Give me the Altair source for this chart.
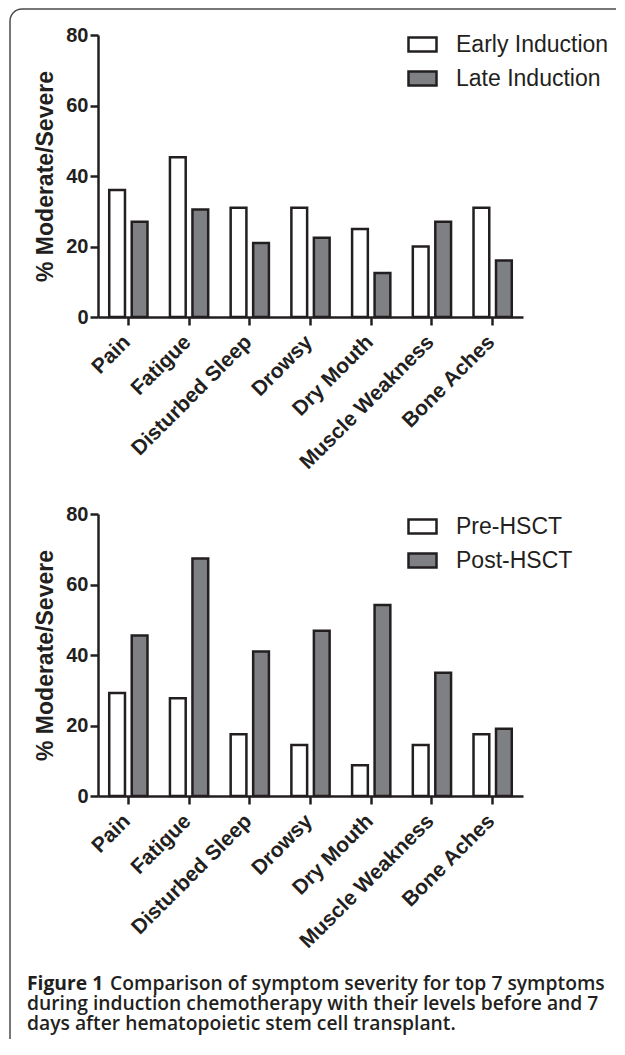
import altair as alt
import pandas as pd

symptoms = ["Pain", "Fatigue", "Disturbed Sleep", "Drowsy", "Dry Mouth", "Muscle Weakness", "Bone Aches"]
early_induction = [36, 45.3, 31, 31, 25, 20, 31]
late_induction = [27, 30.5, 21, 22.5, 12.5, 27, 16]
pre_hsct = [29.2, 27.7, 17.5, 14.5, 8.7, 14.5, 17.5]
post_hsct = [45.5, 67.4, 41, 46.9, 54.2, 35, 19.1]
series_top = ["Early Induction", "Late Induction"]
series_bottom = ["Pre-HSCT", "Post-HSCT"]
y_ticks = [0, 20, 40, 60, 80]
y_title = "% Moderate/Severe"
caption_bold = "Figure 1"
caption_lines = [
    "Comparison of symptom severity for top 7 symptoms",
    "during induction chemotherapy with their levels before and 7",
    "days after hematopoietic stem cell transplant.",
]

INK = "#231f20"
GRAY = "#7f8084"
FRAME = "#4a4a4a"
W, H = 425, 282


def long_df(a, b, names):
    return pd.DataFrame({
        "symptom": symptoms * 2,
        "value": a + b,
        "series": [names[0]] * len(symptoms) + [names[1]] * len(symptoms),
    })


def bar_panel(df, names, legend_y):
    return alt.Chart(df).mark_bar(stroke=INK, strokeWidth=2.5).encode(
        x=alt.X("symptom:N", sort=symptoms,
                scale=alt.Scale(paddingInner=0.37, paddingOuter=0.185),
                axis=alt.Axis(title=None, labelAngle=-45, labelAlign="right",
                              labelBaseline="top", labelPadding=6, labelOffset=-9,
                              labelFontSize=21)),
        xOffset=alt.XOffset("series:N", sort=names,
                            scale=alt.Scale(paddingInner=0.3, paddingOuter=0)),
        y=alt.Y("value:Q", scale=alt.Scale(domain=[0, 80], nice=False),
                axis=alt.Axis(values=y_ticks, title=y_title, grid=False,
                              titlePadding=8, labelPadding=2)),
        fill=alt.Fill("series:N", sort=names,
                      scale=alt.Scale(domain=names, range=["white", GRAY]),
                      legend=alt.Legend(title=None, orient="none", legendX=309, legendY=legend_y,
                                        symbolType="M-1,-0.5H1V0.5H-1Z", symbolSize=784,
                                        symbolStrokeColor=INK, symbolStrokeWidth=2.5,
                                        labelFont="Liberation Sans", labelFontSize=23,
                                        labelFontWeight="normal", labelColor=INK,
                                        labelOffset=18, rowPadding=6, padding=0)),
    ).properties(width=W, height=H)


one = pd.DataFrame({"k": [0]})
left_rule = alt.Chart(one).mark_rule(color=FRAME, strokeWidth=1.5).encode(
    x=alt.value(-88), y=alt.value(-14), y2=alt.value(1004))
top_rule = alt.Chart(one).mark_rule(color=FRAME, strokeWidth=1.5).encode(
    x=alt.value(-76), x2=alt.value(518), y=alt.value(-26))
corner = alt.Chart(one).mark_arc(color=FRAME, radius=12.75, radius2=11.25,
                                 theta=4.712389, theta2=6.283185).encode(
    x=alt.value(-76), y=alt.value(-14))

top = alt.layer(bar_panel(long_df(early_induction, late_induction, series_top), series_top, -6),
                left_rule, top_rule, corner)
bottom = bar_panel(long_df(pre_hsct, post_hsct, series_bottom), series_bottom, -3)

cap_df = pd.DataFrame({"line": list(range(len(caption_lines))), "text": caption_lines})
bold_df = pd.DataFrame({"line": [0], "text": [caption_bold]})
cap_y = alt.Y("line:O", axis=None)
cap_style = dict(align="left", baseline="middle", font="Open Sans", fontSize=19.3,
                 color=INK, dy=-19)
cap_bold = alt.Chart(bold_df).mark_text(fontWeight="bold", **cap_style).encode(
    x=alt.value(-71), y=cap_y, text="text:N")
cap_first = alt.Chart(cap_df).transform_filter("datum.line == 0").mark_text(
    fontWeight=600, dx=83, **cap_style).encode(x=alt.value(-71), y=cap_y, text="text:N")
cap_rest = alt.Chart(cap_df).transform_filter("datum.line > 0").mark_text(
    fontWeight=600, **cap_style).encode(x=alt.value(-71), y=cap_y, text="text:N")
caption = alt.layer(cap_bold, cap_first, cap_rest).properties(width=W, height=alt.Step(20))

chart = alt.vconcat(top, bottom, caption, spacing=197, bounds="flush").resolve_scale(
    fill="independent", xOffset="independent", y="independent").properties(
    padding={"left": 1, "top": 0, "right": 0, "bottom": 0}
).configure_view(stroke=None).configure_axis(
    domainColor=INK, domainWidth=2.5, tickColor=INK, tickWidth=2.5, tickSize=8,
    labelFont="Liberation Sans", labelFontSize=20, labelFontWeight="bold", labelColor=INK,
    titleFont="Liberation Sans", titleFontSize=23, titleFontWeight="bold", titleColor=INK,
)

chart.save("out.html", embed_options={"renderer": "svg", "actions": False})
